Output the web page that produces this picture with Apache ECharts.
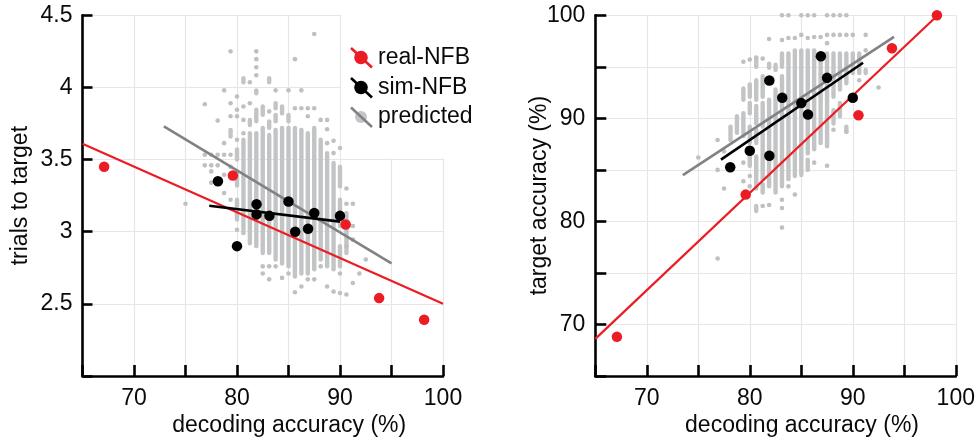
<!DOCTYPE html>
<html>
<head>
<meta charset="utf-8">
<script src="https://cdn.jsdelivr.net/npm/echarts@6/dist/echarts.min.js"></script>
<style>
html,body{margin:0;padding:0;background:#fff;}
#chart{width:978px;height:442px;}
</style>
</head>
<body>
<div id="chart"></div>
<script>
// ---------- data ----------
const xTicks = [70, 80, 90, 100];
const leftYTicks = [2.5, 3, 3.5, 4, 4.5];
const rightYTicks = [70, 80, 90, 100];

// real-NFB subjects
const realX = [67.1, 79.6, 90.55, 93.8, 98.17];
const realTrials = [3.45, 3.39, 3.05, 2.54, 2.39];
const realTargetAcc = [68.8, 82.6, 90.3, 96.8, 100];

// sim-NFB subjects
const simX = [78.15, 81.9, 81.9, 83.15, 85.0, 80.0, 85.65, 86.9, 87.5, 90.0];
const simTrials = [3.35, 3.19, 3.12, 3.11, 3.21, 2.90, 3.00, 3.02, 3.13, 3.11];
const simXR = [78.1, 80.0, 81.9, 81.9, 83.15, 85.0, 85.65, 86.9, 87.5, 90.0];
const simTargetAcc = [85.25, 86.86, 86.38, 93.67, 92.0, 91.48, 90.38, 96.03, 93.93, 92.0];

// regression lines [x, y]
const leftRealFit = [[65, 3.61], [100, 2.50]];
const leftSimFit = [[77.3, 3.18], [90.0, 3.07]];
const leftPredFit = [[72.9, 3.73], [95.0, 2.78]];
const rightRealFit = [[65, 68.6], [98.4, 100.15]];
const rightSimFit = [[77.2, 86.0], [91.0, 95.4]];
const rightPredFit = [[73.5, 84.5], [94.0, 97.9]];

// predicted (gray) cloud: dense column runs [x, yLow, yHigh] and single dots [x, y]
const leftPredRuns = [
  [79.375, 3.66, 3.706], [80.0, 3.5, 3.57], [80.0, 3.32, 3.41], [80.0, 3.176, 3.222], [80.0, 3.085, 3.13],
  [80.625, 4.036, 4.064], [80.625, 2.99, 3.637],
  [81.25, 3.74, 3.775], [81.25, 2.92, 3.683],
  [81.875, 3.96, 3.98], [81.875, 3.765, 3.845], [81.875, 2.90, 3.683],
  [82.5, 3.81, 3.868], [82.5, 2.853, 3.72],
  [83.125, 4.036, 4.064], [83.125, 3.72, 3.765], [83.125, 2.853, 3.67],
  [83.75, 3.856, 3.89], [83.75, 3.765, 3.81], [83.75, 2.807, 3.706],
  [84.375, 3.82, 3.868], [84.375, 2.78, 3.72],
  [85.0, 3.765, 3.81], [85.0, 2.76, 3.72],
  [85.625, 2.69, 3.72],
  [86.25, 2.71, 3.706],
  [86.875, 2.71, 3.683],
  [87.5, 2.74, 3.72],
  [88.125, 2.807, 3.637],
  [88.75, 2.76, 3.545],
  [89.375, 2.74, 3.476],
  [90.0, 3.314, 3.45], [90.0, 3.04, 3.222], [90.0, 2.76, 2.90],
  [90.625, 2.853, 3.13]
];
const leftPredDots = [
  [75.0, 3.194],
  [76.875, 3.884], [76.875, 3.533], [76.875, 3.46],
  [77.5, 3.533], [77.5, 3.46], [77.5, 3.418], [77.5, 3.34],
  [78.125, 3.77], [78.125, 3.533], [78.125, 3.46],
  [78.75, 3.98], [78.75, 3.614], [78.75, 3.533], [78.75, 3.395], [78.75, 3.268],
  [79.375, 4.25], [79.375, 3.89], [79.375, 3.80], [79.375, 3.533], [79.375, 3.45], [79.375, 3.222],
  [80.0, 3.937], [80.0, 3.845], [80.0, 3.80], [80.0, 3.637], [80.0, 3.014],
  [80.625, 3.868], [80.625, 3.775], [80.625, 3.683],
  [81.25, 4.036], [81.25, 3.89],
  [81.875, 4.25], [81.875, 4.196], [81.875, 4.14], [81.875, 4.085],
  [82.5, 2.76], [82.5, 2.71],
  [83.125, 3.834], [83.125, 2.76], [83.125, 2.67],
  [83.75, 3.98], [83.75, 2.76],
  [84.375, 2.68],
  [85.0, 3.98], [85.0, 2.71],
  [85.625, 4.196], [85.625, 3.856], [85.625, 2.58],
  [86.25, 3.98], [86.25, 3.856], [86.25, 2.62],
  [86.875, 3.856], [86.875, 3.80], [86.875, 2.67],
  [87.5, 4.37], [87.5, 3.856], [87.5, 2.67],
  [88.125, 3.775], [88.125, 2.76],
  [88.75, 3.775], [88.75, 3.71], [88.75, 3.614], [88.75, 2.62],
  [89.375, 3.63], [89.375, 3.545], [89.375, 2.585],
  [90.0, 3.58], [90.0, 2.71], [90.0, 2.575],
  [90.625, 3.30], [90.625, 3.194], [90.625, 2.90], [90.625, 2.565],
  [91.25, 3.194], [91.25, 3.04], [91.25, 2.945], [91.25, 2.645],
  [91.875, 2.71],
  [92.5, 2.807]
];
const rightPredRuns = [
  [78.125, 87.9, 89.2],
  [78.75, 88.6, 90.2],
  [79.375, 91.8, 92.9], [79.375, 88.6, 90.5],
  [80.0, 92.1, 93.3], [80.0, 90.5, 91.5], [80.0, 87.6, 89.2], [80.0, 85.4, 86.3],
  [80.625, 95.0, 95.8], [80.625, 91.8, 93.7], [80.625, 89.5, 91.2], [80.625, 87.6, 88.9], [80.625, 83.2, 86.3], [80.625, 81.0, 81.5],
  [81.25, 92.1, 94.1], [81.25, 89.2, 91.5], [81.25, 84.1, 88.6], [81.25, 82.8, 83.6],
  [81.875, 94.9, 95.3], [81.875, 83.4, 91.8],
  [82.5, 94.7, 95.2], [82.5, 82.8, 92.8],
  [83.125, 95.0, 96.3], [83.125, 83.4, 94.1],
  [83.75, 84.1, 96.3],
  [84.375, 84.4, 96.6],
  [85.0, 84.5, 96.6],
  [85.625, 86.6, 96.6], [85.625, 85.0, 86.0],
  [86.25, 87.0, 96.6],
  [86.875, 87.6, 96.3],
  [87.5, 87.3, 96.3],
  [88.125, 92.1, 96.3], [88.125, 89.5, 90.8],
  [88.75, 92.8, 96.3], [88.75, 90.2, 91.5],
  [89.375, 93.4, 96.3], [89.375, 88.7, 89.2],
  [90.0, 94.4, 96.3],
  [90.625, 94.4, 96.3],
  [91.25, 94.4, 94.7]
];
const rightPredDots = [
  [75.0, 86.2],
  [76.875, 87.9], [76.875, 85.0], [76.875, 76.4],
  [77.5, 86.8], [77.5, 83.2],
  [79.375, 95.5], [79.375, 88.3], [79.375, 85.7], [79.375, 83.9],
  [80.0, 95.7], [80.0, 84.4], [80.0, 83.4],
  [80.625, 95.9],
  [81.25, 95.8], [81.25, 81.5],
  [81.875, 97.7], [81.875, 81.6],
  [83.125, 100], [83.125, 97.6], [83.125, 82.1], [83.125, 81.3], [83.125, 79.4],
  [83.75, 100], [83.75, 97.8], [83.75, 83.4],
  [84.375, 97.8], [84.375, 82.6],
  [85.0, 100], [85.0, 98.1],
  [85.625, 100], [85.625, 97.8],
  [86.25, 100], [86.25, 97.9], [86.25, 85.7],
  [86.875, 97.9],
  [87.5, 100], [87.5, 98.1], [87.5, 97.3], [87.5, 85.4],
  [88.125, 100], [88.125, 98.1], [88.125, 88.9],
  [88.75, 100], [88.75, 98.1],
  [89.375, 100], [89.375, 98.1], [89.375, 88.7],
  [90.0, 98.1],
  [90.625, 93.7],
  [91.25, 98.1], [91.25, 96.6],
  [92.5, 93.0]
];

// ---------- styling ----------
const FONT = "'Liberation Sans', Arial, Helvetica, sans-serif";
const RED = '#ec1c24';
const BLACK = '#000000';
const GRAY_DOT = '#bfc0c2';
const GRAY_RUN = '#c3c4c6';
const GRAY_LINE = '#808285';
const GRID = '#e6e6e6';
const TEXT = '#0a0a0a';

const chart = echarts.init(document.getElementById('chart'), null, {renderer: 'canvas'});

function zip(xs, ys) { return xs.map((x, i) => [x, ys[i]]); }

function xAxisFor(gridIndex) {
  return {
    type: 'value', gridIndex, min: 65, max: 100, interval: 5,
    name: 'decoding accuracy (%)', nameLocation: 'middle', nameGap: 38, nameMoveOverlap: false,
    nameTextStyle: {fontFamily: FONT, fontSize: 23, color: TEXT, padding: [0, 0, 0, 53]},
    axisLine: {show: true, onZero: false, lineStyle: {color: '#000', width: 2.6}},
    axisTick: {show: true, inside: true, length: 11, lineStyle: {color: '#000', width: 2.6}},
    axisLabel: {
      fontFamily: FONT, fontSize: 23, color: TEXT, margin: 11,
      formatter: v => (xTicks.indexOf(v) >= 0 ? String(v) : '')
    },
    splitLine: {show: true, lineStyle: {color: GRID, width: 1.2}}
  };
}

function runSeries(name, gridIdx, runs) {
  return {
    type: 'custom', name, xAxisIndex: gridIdx, yAxisIndex: gridIdx,
    data: runs, encode: {x: 0, y: [1, 2]}, z: 2, silent: true,
    renderItem: function (params, api) {
      const a = api.coord([api.value(0), api.value(1)]);
      const b = api.coord([api.value(0), api.value(2)]);
      return {type: 'line', shape: {x1: a[0], y1: a[1], x2: b[0], y2: b[1]},
        style: {stroke: GRAY_RUN, lineWidth: 4.4, lineCap: 'round'}};
    }
  };
}
function dotSeries(gridIdx, data, color, size, z) {
  return {type: 'scatter', xAxisIndex: gridIdx, yAxisIndex: gridIdx, data,
    symbol: 'circle', symbolSize: size, itemStyle: {color, opacity: 1}, z, silent: true, clip: false};
}
function lineSeries(gridIdx, data, color, width, z) {
  return {type: 'line', xAxisIndex: gridIdx, yAxisIndex: gridIdx, data,
    showSymbol: false, symbol: 'none', lineStyle: {color, width}, z, silent: true, clip: false, animation: false};
}

// legend (drawn as graphics)
const legendItems = [
  {label: 'real-NFB', color: RED, dot: RED, r: 6.8, cy: 57.5},
  {label: 'sim-NFB', color: BLACK, dot: BLACK, r: 6.8, cy: 87.5},
  {label: 'predicted', color: GRAY_LINE, dot: '#c4c5c7', r: 6.0, cy: 117}
];
const legendGraphics = [];
legendItems.forEach((it) => {
  legendGraphics.push({type: 'circle', z: 10, shape: {cx: 361, cy: it.cy, r: it.r}, style: {fill: it.dot}});
  legendGraphics.push({type: 'line', z: 11, shape: {x1: 351, y1: it.cy - 9.5, x2: 372, y2: it.cy + 10}, style: {stroke: it.color, lineWidth: 2.6}});
  legendGraphics.push({type: 'text', z: 11, x: 378, y: it.cy, style: {text: it.label, fontFamily: FONT, fontSize: 23, fill: TEXT, verticalAlign: 'middle'}});
});

const option = {
  animation: false,
  backgroundColor: '#ffffff',
  grid: [
    {left: 82.5, top: 15.3, width: 360.5, height: 362},
    {left: 595.3, top: 15.3, width: 360.5, height: 362}
  ],
  xAxis: [xAxisFor(0), xAxisFor(1)],
  yAxis: [
    {
      type: 'value', gridIndex: 0, min: 2, max: 4.5, interval: 0.5,
      name: 'trials to target', nameLocation: 'middle', nameGap: 50, nameMoveOverlap: false,
      nameTextStyle: {fontFamily: FONT, fontSize: 23, color: TEXT},
      axisLine: {show: true, onZero: false, lineStyle: {color: '#000', width: 2.6}},
      axisTick: {show: true, inside: true, length: 10, lineStyle: {color: '#000', width: 2.6}},
      axisLabel: {fontFamily: FONT, fontSize: 23, color: TEXT, margin: 10,
        formatter: v => (leftYTicks.some(t => Math.abs(t - v) < 1e-9) ? String(v) : '')},
      splitLine: {show: true, lineStyle: {color: GRID, width: 1.2}}
    },
    {
      type: 'value', gridIndex: 1, min: 65, max: 100, interval: 5,
      name: 'target accuracy (%)', nameLocation: 'middle', nameGap: 44, nameMoveOverlap: false,
      nameTextStyle: {fontFamily: FONT, fontSize: 23, color: TEXT},
      axisLine: {show: true, onZero: false, lineStyle: {color: '#000', width: 2.6}},
      axisTick: {show: true, inside: true, length: 11, lineStyle: {color: '#000', width: 2.6}},
      axisLabel: {fontFamily: FONT, fontSize: 23, color: TEXT, margin: 10,
        formatter: v => (rightYTicks.indexOf(v) >= 0 ? String(v) : '')},
      splitLine: {show: true, lineStyle: {color: GRID, width: 1.2}}
    }
  ],
  graphic: {elements: legendGraphics},
  series: [
    // left panel
    runSeries('predicted', 0, leftPredRuns),
    dotSeries(0, leftPredDots, GRAY_DOT, 4.6, 2),
    lineSeries(0, leftPredFit, GRAY_LINE, 2.6, 3),
    lineSeries(0, leftRealFit, RED, 2.2, 3),
    lineSeries(0, leftSimFit, BLACK, 2.6, 4),
    dotSeries(0, zip(simX, simTrials), BLACK, 10.5, 5),
    dotSeries(0, zip(realX, realTrials), RED, 10.5, 6),
    // right panel
    runSeries('predicted', 1, rightPredRuns),
    dotSeries(1, rightPredDots, GRAY_DOT, 4.6, 2),
    lineSeries(1, rightPredFit, GRAY_LINE, 2.6, 3),
    lineSeries(1, rightRealFit, RED, 2.2, 3),
    lineSeries(1, rightSimFit, BLACK, 2.6, 4),
    dotSeries(1, zip(simXR, simTargetAcc), BLACK, 10.5, 5),
    dotSeries(1, zip(realX, realTargetAcc), RED, 10.5, 6)
  ]
};
chart.setOption(option);

// blank out the grid behind the legend (upper-right of left panel)
const tl = chart.convertToPixel({gridIndex: 0}, [90, 4.5]);
const br = chart.convertToPixel({gridIndex: 0}, [100, 3.5]);
chart.setOption({graphic: {elements: [{
  id: 'legendMask', type: 'rect', z: 1,
  shape: {x: tl[0] + 1, y: tl[1] - 2, width: br[0] - tl[0] + 2, height: br[1] - tl[1] + 1},
  style: {fill: '#ffffff'}
}]}});
</script>
</body>
</html>
